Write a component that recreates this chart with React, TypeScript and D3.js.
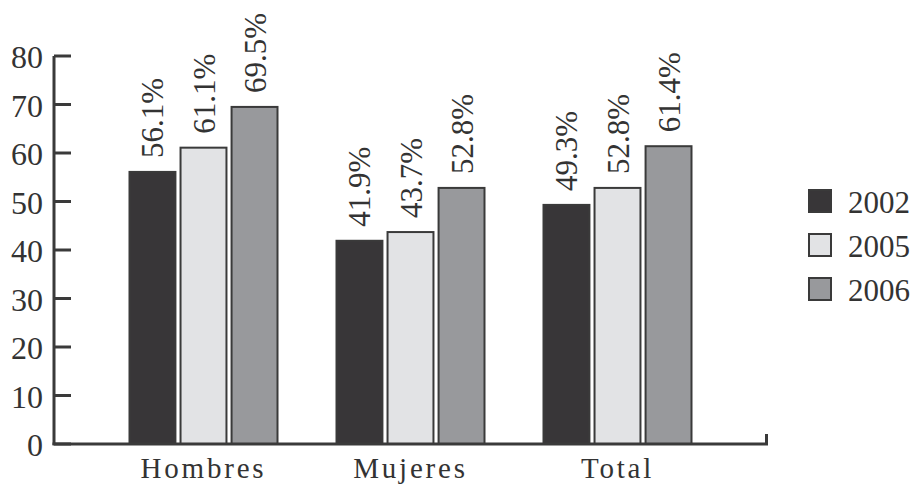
import React from "react";
import * as d3 from "d3";

const categories = ["Hombres", "Mujeres", "Total"];
const series = ["2002", "2005", "2006"];
const values2002 = [56.1, 41.9, 49.3];
const values2005 = [61.1, 43.7, 52.8];
const values2006 = [69.5, 52.8, 61.4];
const yTicks = [0, 10, 20, 30, 40, 50, 60, 70, 80];
const colors = ["#383638", "#e2e3e5", "#98999c"];

const W = 911, H = 484;
const FONT = "'Liberation Serif', serif";

export default function App() {
  const allValues = [values2002, values2005, values2006];
  const y = d3.scaleLinear().domain([0, 80]).range([444, 56]);
  const x0 = d3.scaleBand().domain(categories).range([100, 721]).padding(0);
  const x1 = d3.scaleBand().domain(series).range([-74, 74]).paddingInner(0.1);
  const axisX = 54;
  const axisRight = 768;
  return (
    <svg width={W} height={H} style={{ position: "absolute", left: 0, top: 0, background: "#fff" }}>
      {categories.map((c, ci) => (
        <g key={c} transform={`translate(${x0(c)! + x0.bandwidth() / 2},0)`}>
          {series.map((s, si) => {
            const v = allValues[si][ci];
            const bx = x1(s)!;
            const bw = x1.bandwidth();
            return (
              <g key={s}>
                <rect x={bx} y={y(v)} width={bw} height={y(0) - y(v)} fill={colors[si]} stroke="#3a3a3a" strokeWidth={2} />
                <text
                  transform={`translate(${bx + bw / 2 + 11},${y(v) - 14}) rotate(-90)`}
                  fontFamily={FONT} fontSize={31} fill="#333"
                >{v.toFixed(1)}%</text>
              </g>
            );
          })}
        </g>
      ))}
      <line x1={axisX} x2={axisX} y1={y(80)} y2={y(0) + 1} stroke="#3a3a3a" strokeWidth={3} />
      {yTicks.map(t => (
        <g key={t}>
          <line x1={axisX} x2={71} y1={y(t)} y2={y(t)} stroke="#3a3a3a" strokeWidth={3} />
          <text x={43} y={y(t) + 12} textAnchor="end" fontFamily={FONT} fontSize={32} fill="#333">{t}</text>
        </g>
      ))}
      <line x1={axisX - 1.5} x2={axisRight} y1={y(0)} y2={y(0)} stroke="#3a3a3a" strokeWidth={3} />
      <line x1={axisRight - 1.5} x2={axisRight - 1.5} y1={y(0)} y2={y(0) - 10} stroke="#3a3a3a" strokeWidth={3} />
      {categories.map(c => (
        <text key={c} x={x0(c)! + x0.bandwidth() / 2} y={478} textAnchor="middle" fontFamily={FONT} fontSize={29} letterSpacing={2.8} fill="#333">{c}</text>
      ))}
      {series.map((s, i) => (
        <g key={s} transform={`translate(808,${189 + i * 44})`}>
          <rect x={1} y={1} width={22} height={22} fill={colors[i]} stroke="#3a3a3a" strokeWidth={2} />
          <text x={40} y={24} fontFamily={FONT} fontSize={31} fill="#333">{s}</text>
        </g>
      ))}
    </svg>
  );
}
